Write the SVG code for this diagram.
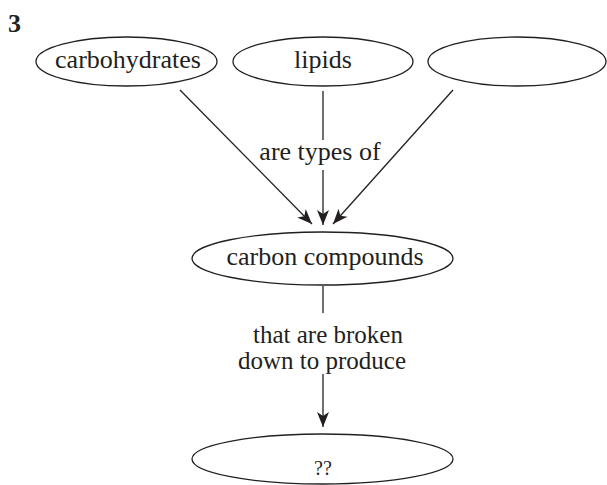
<svg xmlns="http://www.w3.org/2000/svg" width="607" height="485" viewBox="0 0 607 485">
  <style>
    .node { fill: none; stroke: #231f20; stroke-width: 1.3; }
    .edge { stroke: #231f20; stroke-width: 1.3; fill: none; }
  </style>
  <defs>
    <marker id="arrow" markerUnits="userSpaceOnUse" markerWidth="20" markerHeight="16" viewBox="-16 -8 17 16" refX="0" refY="0" orient="auto">
      <path d="M0,0 L-15,-6 L-11,0 L-15,6 Z" fill="#231f20"/>
    </marker>
  </defs>
  <rect width="607" height="485" fill="#ffffff"/>

  <g font-family="Liberation Serif, Times New Roman, serif" fill="#231f20" font-size="26" text-anchor="middle">
    <text x="8" y="32" font-weight="bold" text-anchor="start">3</text>

    <g id="connectors">
      <line class="edge" x1="180" y1="90" x2="312" y2="224" marker-end="url(#arrow)"/>
      <line class="edge" x1="323" y1="91" x2="323" y2="140"/>
      <line class="edge" x1="323" y1="170" x2="323" y2="225" marker-end="url(#arrow)"/>
      <line class="edge" x1="453" y1="90" x2="333" y2="224" marker-end="url(#arrow)"/>
      <text x="320" y="160">are types of</text>
      <line class="edge" x1="323" y1="286" x2="323" y2="313"/>
      <line class="edge" x1="323" y1="374" x2="323" y2="427" marker-end="url(#arrow)"/>
      <text x="328" y="343" font-size="25">that are broken</text>
      <text x="322" y="369" font-size="25">down to produce</text>
    </g>

    <g id="carbohydrates">
      <ellipse class="node" cx="126.5" cy="61.5" rx="90.5" ry="24.5"/>
      <text x="128" y="68">carbohydrates</text>
    </g>
    <g id="lipids">
      <ellipse class="node" cx="323" cy="61.5" rx="90" ry="24.5"/>
      <text x="323" y="68">lipids</text>
    </g>
    <g id="blank">
      <ellipse class="node" cx="517" cy="61.5" rx="89" ry="24.5"/>
    </g>
    <g id="carbon-compounds">
      <ellipse class="node" cx="322.5" cy="258.5" rx="130.5" ry="26.5"/>
      <text x="325" y="265">carbon compounds</text>
    </g>
    <g id="unknown">
      <ellipse class="node" cx="322.5" cy="459" rx="130.5" ry="25"/>
      <text x="323" y="475" font-size="20">??</text>
    </g>
  </g>
</svg>
